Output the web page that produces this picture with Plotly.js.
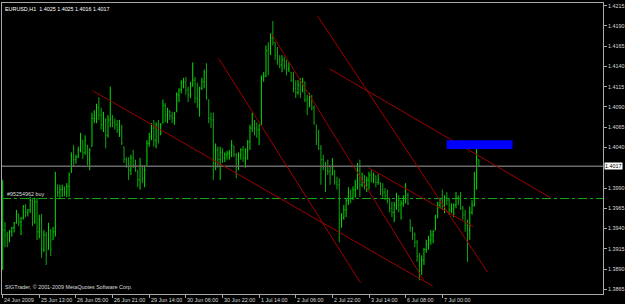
<!DOCTYPE html>
<html><head><meta charset="utf-8">
<script src="https://cdn.plot.ly/plotly-3.0.1.min.js"></script>
<style>html,body{margin:0;padding:0;background:#000;}#chart{width:625px;height:304px;}</style>
</head><body><div id="chart"></div>
<script>
// EURUSD H1 bars (bar index 0 = 24 Jun 2009 ... 208 = 7 Jul 16:00)
const opens = [
1.3899,1.3938,1.3932,1.3926,1.3936,1.3941,1.3947,1.3958,1.3948,1.3953,
1.3967,1.3960,1.3963,1.3975,1.3948,1.3973,1.3936,1.3951,1.3914,1.3932,
1.3914,1.3938,1.3926,1.3936,1.3994,1.3985,1.3988,1.3990,1.3985,1.3992,
1.4009,1.4029,1.4025,1.4028,1.4037,1.4049,1.4034,1.4043,1.4025,1.4041,
1.4076,1.4080,1.4089,1.4080,1.4068,1.4074,1.4055,1.4074,1.4076,1.4071,
1.4068,1.4062,1.4065,1.4041,1.4025,1.4021,1.4012,1.4027,1.4018,1.4012,
1.4000,1.4018,1.4002,1.4018,1.4045,1.4053,1.4064,1.4049,1.4068,1.4062,
1.4070,1.4092,1.4080,1.4084,1.4079,1.4076,1.4084,1.4105,1.4111,1.4120,
1.4121,1.4111,1.4105,1.4117,1.4123,1.4101,1.4099,1.4113,1.4121,1.4133,
1.4099,1.4076,1.4074,1.4025,1.4037,1.4025,1.4034,1.4027,1.4031,1.4033,
1.4034,1.4042,1.4031,1.4025,1.4031,1.4037,1.4027,1.4037,1.4047,1.4064,
1.4068,1.4064,1.4062,1.4068,1.4126,1.4128,1.4160,1.4158,1.4175,1.4170,
1.4154,1.4148,1.4142,1.4148,1.4141,1.4136,1.4133,1.4123,1.4113,1.4108,
1.4117,1.4111,1.4121,1.4099,1.4090,1.4101,1.4089,1.4068,1.4049,1.4039,
1.4025,1.4018,1.4012,1.4010,1.4006,1.4012,1.3997,1.3994,1.3951,1.3953,
1.3963,1.3975,1.3981,1.3978,1.3988,1.3994,1.4012,1.3994,1.4000,1.3994,
1.4000,1.4006,1.4002,1.4005,1.3997,1.3997,1.3988,1.3985,1.3981,1.3975,
1.3965,1.3960,1.3969,1.3975,1.3969,1.3971,1.3978,1.3981,1.3951,1.3941,
1.3932,1.3923,1.3906,1.3895,1.3901,1.3914,1.3920,1.3926,1.3932,1.3938,
1.3953,1.3969,1.3975,1.3969,1.3978,1.3975,1.3963,1.3965,1.3969,1.3978,
1.3975,1.3965,1.3957,1.3944,1.3938,1.3960,1.3969,1.4002,1.4025];
const highs = [
1.4000,1.3948,1.3936,1.3938,1.3942,1.3948,1.3963,1.3958,1.3954,1.3969,
1.3970,1.3964,1.3979,1.3976,1.3978,1.3978,1.3957,1.3958,1.3938,1.3936,
1.3947,1.3939,1.3942,1.4010,1.3994,1.3994,1.3994,1.3992,1.3996,1.4009,
1.4034,1.4043,1.4031,1.4041,1.4058,1.4049,1.4055,1.4043,1.4039,1.4083,
1.4086,1.4094,1.4102,1.4089,1.4084,1.4076,1.4080,1.4115,1.4080,1.4076,
1.4074,1.4074,1.4068,1.4041,1.4028,1.4028,1.4031,1.4037,1.4025,1.4012,
1.4027,1.4018,1.4018,1.4049,1.4058,1.4070,1.4074,1.4071,1.4074,1.4070,
1.4099,1.4095,1.4089,1.4086,1.4084,1.4084,1.4108,1.4113,1.4123,1.4126,
1.4127,1.4115,1.4121,1.4145,1.4127,1.4120,1.4115,1.4126,1.4136,1.4144,
1.4099,1.4083,1.4083,1.4045,1.4041,1.4041,1.4039,1.4034,1.4036,1.4037,
1.4049,1.4042,1.4033,1.4034,1.4039,1.4042,1.4039,1.4049,1.4068,1.4083,
1.4074,1.4071,1.4068,1.4129,1.4133,1.4166,1.4170,1.4181,1.4196,1.4170,
1.4164,1.4154,1.4154,1.4152,1.4148,1.4145,1.4133,1.4133,1.4123,1.4123,
1.4126,1.4126,1.4121,1.4105,1.4107,1.4105,1.4092,1.4068,1.4062,1.4043,
1.4031,1.4022,1.4025,1.4018,1.4027,1.4012,1.4004,1.4002,1.3959,1.3969,
1.3978,1.3991,1.3988,1.3992,1.4000,1.4021,1.4025,1.4009,1.4006,1.4004,
1.4010,1.4012,1.4009,1.4005,1.4007,1.3997,1.3996,1.3990,1.3988,1.3978,
1.3973,1.3973,1.3984,1.3981,1.3975,1.3981,1.3996,1.3984,1.3951,1.3942,
1.3935,1.3926,1.3910,1.3907,1.3916,1.3926,1.3931,1.3938,1.3938,1.3957,
1.3973,1.3978,1.3988,1.3981,1.3985,1.3978,1.3971,1.3971,1.3985,1.3981,
1.3985,1.3968,1.3963,1.3951,1.3967,1.3975,1.4010,1.4045,1.4025];
const lows = [
1.3889,1.3917,1.3917,1.3923,1.3930,1.3935,1.3946,1.3943,1.3932,1.3951,
1.3954,1.3955,1.3959,1.3943,1.3946,1.3926,1.3928,1.3904,1.3911,1.3895,
1.3914,1.3906,1.3926,1.3930,1.3979,1.3978,1.3979,1.3980,1.3979,1.3979,
1.4009,1.4016,1.4020,1.4027,1.4034,1.4026,1.4031,1.4018,1.4012,1.4041,
1.4070,1.4070,1.4074,1.4062,1.4059,1.4039,1.4052,1.4065,1.4065,1.4062,
1.4058,1.4053,1.4043,1.4021,1.4015,1.4000,1.4006,1.4015,1.4010,1.3991,
1.3988,1.3996,1.3991,1.4018,1.4041,1.4049,1.4041,1.4039,1.4045,1.4055,
1.4070,1.4071,1.4070,1.4074,1.4070,1.4068,1.4084,1.4096,1.4107,1.4113,
1.4105,1.4096,1.4101,1.4115,1.4095,1.4089,1.4078,1.4111,1.4113,1.4099,
1.4070,1.4064,1.4000,1.4012,1.4015,1.4000,1.4021,1.4022,1.4025,1.4025,
1.4028,1.4028,1.4002,1.4012,1.4025,1.4022,1.4015,1.4025,1.4037,1.4059,
1.4055,1.4052,1.4043,1.4068,1.4121,1.4127,1.4129,1.4154,1.4166,1.4148,
1.4142,1.4138,1.4133,1.4136,1.4129,1.4133,1.4121,1.4108,1.4101,1.4105,
1.4101,1.4108,1.4096,1.4080,1.4090,1.4086,1.4068,1.4043,1.4037,1.3994,
1.4012,1.3985,1.4006,1.3994,1.4006,1.3994,1.3988,1.3923,1.3941,1.3951,
1.3954,1.3969,1.3971,1.3975,1.3978,1.3988,1.3979,1.3991,1.3988,1.3985,
1.3988,1.3997,1.3996,1.3991,1.3994,1.3981,1.3978,1.3975,1.3971,1.3960,
1.3954,1.3948,1.3963,1.3960,1.3951,1.3967,1.3971,1.3969,1.3936,1.3926,
1.3917,1.3899,1.3876,1.3883,1.3895,1.3910,1.3914,1.3920,1.3922,1.3938,
1.3953,1.3965,1.3963,1.3959,1.3969,1.3957,1.3959,1.3954,1.3965,1.3969,
1.3963,1.3951,1.3936,1.3899,1.3926,1.3957,1.3967,1.3988,1.4016];
const closes = [
1.3938,1.3932,1.3926,1.3936,1.3941,1.3947,1.3959,1.3948,1.3953,1.3967,
1.3960,1.3963,1.3975,1.3948,1.3973,1.3936,1.3951,1.3914,1.3932,1.3907,
1.3941,1.3914,1.3936,1.4000,1.3985,1.3988,1.3990,1.3985,1.3992,1.4006,
1.4029,1.4025,1.4028,1.4037,1.4049,1.4034,1.4049,1.4025,1.4037,1.4076,
1.4080,1.4089,1.4080,1.4068,1.4074,1.4055,1.4074,1.4076,1.4071,1.4068,
1.4062,1.4065,1.4045,1.4025,1.4021,1.4012,1.4027,1.4018,1.4012,1.4000,
1.4018,1.4002,1.4012,1.4045,1.4053,1.4064,1.4049,1.4068,1.4062,1.4068,
1.4092,1.4080,1.4084,1.4079,1.4076,1.4083,1.4105,1.4111,1.4120,1.4121,
1.4111,1.4105,1.4117,1.4123,1.4101,1.4099,1.4113,1.4121,1.4133,1.4101,
1.4076,1.4074,1.4025,1.4037,1.4025,1.4034,1.4027,1.4031,1.4033,1.4034,
1.4043,1.4031,1.4025,1.4031,1.4037,1.4027,1.4037,1.4047,1.4064,1.4068,
1.4064,1.4062,1.4068,1.4126,1.4128,1.4160,1.4136,1.4175,1.4170,1.4154,
1.4148,1.4142,1.4148,1.4141,1.4136,1.4138,1.4123,1.4113,1.4108,1.4117,
1.4105,1.4121,1.4099,1.4086,1.4101,1.4089,1.4071,1.4049,1.4039,1.4025,
1.4018,1.4012,1.4010,1.4002,1.4018,1.3997,1.3994,1.3951,1.3953,1.3963,
1.3975,1.3981,1.3978,1.3988,1.3994,1.4012,1.3994,1.4000,1.3994,1.4000,
1.4006,1.4002,1.4005,1.3997,1.4000,1.3988,1.3985,1.3981,1.3975,1.3965,
1.3960,1.3969,1.3975,1.3969,1.3971,1.3978,1.3981,1.3971,1.3941,1.3932,
1.3923,1.3906,1.3895,1.3901,1.3914,1.3920,1.3926,1.3932,1.3936,1.3953,
1.3969,1.3975,1.3969,1.3978,1.3975,1.3963,1.3965,1.3969,1.3978,1.3975,
1.3965,1.3957,1.3944,1.3938,1.3960,1.3969,1.4002,1.4025,1.4017];

const timeTickIdx = [0,16,32,48,64,80,96,112,128,144,160,176,192];
const timeTickText = ['24 Jun 2009','25 Jun 13:00','26 Jun 05:00','26 Jun 21:00','29 Jun 14:00',
  '30 Jun 06:00','30 Jun 22:00','1 Jul 14:00','2 Jul 06:00','2 Jul 22:00','3 Jul 14:00',
  '6 Jul 08:00','7 Jul 00:00'];
const priceTicks = [1.3865,1.3890,1.3915,1.3940,1.3965,1.3990,1.4040,1.4065,1.4090,1.4115,1.4140,1.4165,1.4190,1.4215];

const symbolTitle = 'EURUSD,H1\u00a0 1.4025 1.4025 1.4016 1.4017';
const copyrightText = 'SIGTrader, \u00a9 2001-2009 MetaQuotes Software Corp.';
const bidPrice = 1.4017;
const orderPrice = 1.3977;
const orderLabel = '#95254962 buy';

// trend lines (bar index, price)
const lineStartIdx   = [39.3, 94.3, 117.5, 137.6, 142.8, 159.8];
const lineStartPrice = [1.4110, 1.4150, 1.4180, 1.4202, 1.4137, 1.4015];
const lineEndIdx     = [187.8, 156.3, 183.8, 211.8, 239.3, 205.7];
const lineEndPrice   = [1.3869, 1.3873, 1.3877, 1.3886, 1.3978, 1.3942];

// blue zone
const zoneIdx = [193.9, 222.7];
const zonePrice = [1.4038, 1.4049];

const barIdx = opens.map((_, i) => i);
const FONT = 'Liberation Sans, Arial, sans-serif';
const TXT = '#dcdcdc';
const FS = 5.4;

const shapes = [];
shapes.push({type:'line', xref:'paper', x0:0, x1:1, yref:'y', y0:bidPrice, y1:bidPrice,
  line:{color:'#6a6a6a', width:1.5}, layer:'above'});
shapes.push({type:'line', xref:'paper', x0:0, x1:1, yref:'y', y0:orderPrice, y1:orderPrice,
  line:{color:'#14a814', width:1, dash:'dashdot'}, layer:'above'});
for (let k = 0; k < lineStartIdx.length; k++) {
  shapes.push({type:'line', xref:'x', yref:'y', x0:lineStartIdx[k], y0:lineStartPrice[k],
    x1:lineEndIdx[k], y1:lineEndPrice[k], line:{color:'#a00000', width:1}, layer:'above'});
}
shapes.push({type:'rect', xref:'x', yref:'y', x0:zoneIdx[0], x1:zoneIdx[1], y0:zonePrice[0], y1:zonePrice[1],
  fillcolor:'#0000ff', line:{width:0}, layer:'above'});

const annotations = [
  {xref:'paper', yref:'paper', x:0, y:1, xanchor:'left', yanchor:'top', xshift:1, yshift:-1,
   text:symbolTitle, showarrow:false, font:{family:FONT, size:FS, color:'#ffffff'}},
  {xref:'paper', yref:'paper', x:0, y:0, xanchor:'left', yanchor:'bottom', xshift:1, yshift:2,
   text:copyrightText, showarrow:false, font:{family:FONT, size:FS, color:TXT}},
  {xref:'x', yref:'y', x:1, y:orderPrice, xanchor:'left', yanchor:'bottom', yshift:0,
   text:orderLabel, showarrow:false, font:{family:FONT, size:FS, color:TXT}},
  {xref:'paper', yref:'y', x:1, y:bidPrice, xanchor:'left', yanchor:'middle', xshift:1,
   text:bidPrice.toFixed(4), showarrow:false, bgcolor:'#ffffff', borderpad:0,
   font:{family:FONT, size:FS, color:'#000000'}}
];
// time axis labels, left-aligned at their tick like the terminal draws them
timeTickIdx.forEach((ix, k) => {
  annotations.push({xref:'x', yref:'paper', x:ix, y:0, xanchor:'left', yanchor:'top',
    xshift:0.5, yshift:-1.5, text:timeTickText[k], showarrow:false, borderpad:0,
    font:{family:FONT, size:FS, color:TXT}});
});

const trace = {
  type:'ohlc', x:barIdx, open:opens, high:highs, low:lows, close:closes,
  increasing:{line:{color:'#00e000', width:1}},
  decreasing:{line:{color:'#12a812', width:1}},
  tickwidth:0.3, hoverinfo:'skip'
};

const layout = {
  width:625, height:304,
  margin:{l:2, r:22, t:3, b:10, pad:0},
  paper_bgcolor:'#000000', plot_bgcolor:'#000000',
  showlegend:false, hovermode:false,
  font:{family:FONT, size:FS, color:TXT},
  xaxis:{range:[-0.3, 262.2], showgrid:false, zeroline:false, showline:true, mirror:true,
    linecolor:'#a8a8a8', linewidth:1, ticks:'outside', ticklen:3, tickcolor:'#a8a8a8',
    tickvals:timeTickIdx, showticklabels:false,
    rangeslider:{visible:false}, fixedrange:true},
  yaxis:{side:'right', range:[1.38592, 1.42183], showgrid:false, zeroline:false, showline:true,
    mirror:true, linecolor:'#a8a8a8', linewidth:1, ticks:'outside', ticklen:3, tickcolor:'#a8a8a8',
    tickvals:priceTicks, ticktext:priceTicks.map(v => v.toFixed(4)),
    tickfont:{family:FONT, size:FS, color:TXT}, fixedrange:true},
  shapes:shapes, annotations:annotations
};

Plotly.newPlot('chart', [trace], layout, {displayModeBar:false, staticPlot:true});
</script>
</body></html>
